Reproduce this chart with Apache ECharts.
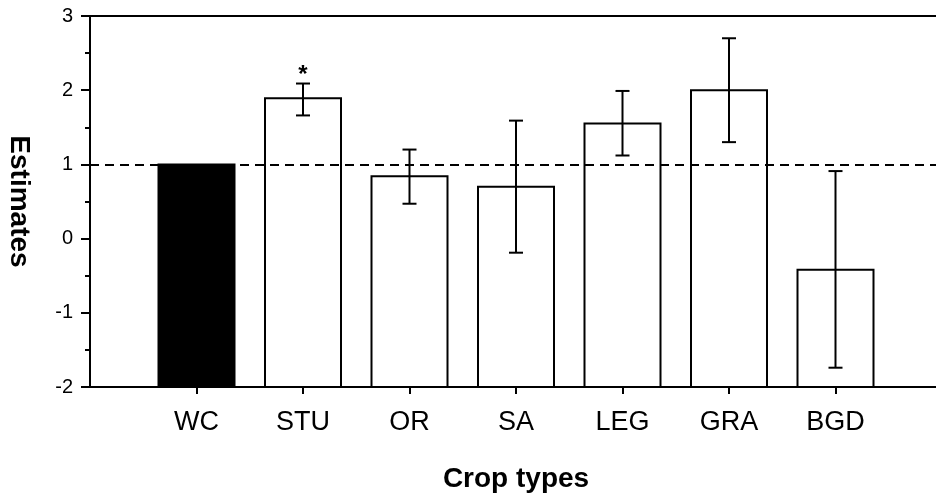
<!DOCTYPE html>
<html>
<head>
<meta charset="utf-8">
<script src="https://cdn.jsdelivr.net/npm/echarts@6/dist/echarts.min.js"></script>
<style>html,body{margin:0;padding:0;background:#fff;}#c{width:936px;height:498px;}</style>
</head>
<body>
<div id="c"></div>
<script>
const categories = ['WC', 'STU', 'OR', 'SA', 'LEG', 'GRA', 'BGD'];
const estimates = [1.0, 1.89, 0.84, 0.70, 1.55, 2.00, -0.42];
const errLow = [null, 1.66, 0.47, -0.19, 1.12, 1.30, -1.74];
const errHigh = [null, 2.09, 1.20, 1.59, 1.99, 2.70, 0.91];
const signif = ['', '*', '', '', '', '', ''];
const yTicks = [-2, -1, 0, 1, 2, 3];
const referenceLevel = 1;

const FONT = '"Liberation Sans", Arial, Helvetica, sans-serif';
const axisData = [''].concat(categories, ['']);
const barData = estimates.map((v, i) => [i + 1, v, i]);
const errData = categories.map((c, i) => [i + 1, errLow[i], errHigh[i], i]).filter(d => d[1] !== null);
const yMin = yTicks[0];

const chart = echarts.init(document.getElementById('c'), null, { renderer: 'canvas' });
chart.setOption({
  animation: false,
  backgroundColor: '#fff',
  grid: { left: 90, top: 16, bottom: 111, right: -6, outerBoundsMode: 'none', containLabel: false, show: true, borderColor: '#000', borderWidth: 2, backgroundColor: 'transparent' },
  xAxis: {
    type: 'category',
    data: axisData,
    boundaryGap: false,
    name: 'Crop types',
    nameLocation: 'middle',
    nameGap: 78,
    nameTextStyle: { fontFamily: FONT, fontSize: 28, fontWeight: 'bold', color: '#000' },
    axisLine: { onZero: false, lineStyle: { color: '#000', width: 2 } },
    axisTick: { show: true, length: 7, interval: function (i) { return i > 0 && i <= categories.length; }, lineStyle: { color: '#000', width: 2 } },
    axisLabel: { fontFamily: FONT, fontSize: 27, color: '#000', margin: 22, interval: 0 },
    splitLine: { show: false }
  },
  yAxis: {
    type: 'value',
    min: yMin,
    max: yTicks[yTicks.length - 1],
    interval: 1,
    name: 'Estimates',
    nameLocation: 'middle',
    nameGap: 57,
    nameRotate: -90,
    nameTextStyle: { fontFamily: FONT, fontSize: 28, fontWeight: 'bold', color: '#000' },
    axisLine: { show: true, lineStyle: { color: '#000', width: 2 } },
    axisTick: { show: true, length: 9, lineStyle: { color: '#000', width: 2 } },
    minorTick: { show: true, splitNumber: 2, length: 5, lineStyle: { color: '#000', width: 2 } },
    axisLabel: { fontFamily: FONT, fontSize: 20, color: '#000', margin: 17 },
    splitLine: { show: false },
    minorSplitLine: { show: false }
  },
  series: [
    {
      type: 'custom',
      data: barData,
      z: 2,
      renderItem: function (params, api) {
        const x = api.value(0);
        const p = api.coord([x, api.value(1)]);
        const b = api.coord([x, yMin]);
        const w = 76;
        const idx = api.value(2);
        return {
          type: 'rect',
          shape: { x: p[0] - w / 2, y: p[1], width: w, height: b[1] - p[1] },
          style: { fill: idx === 0 ? '#000' : '#fff', stroke: '#000', lineWidth: 2 }
        };
      }
    },
    {
      type: 'custom',
      data: errData,
      z: 5,
      renderItem: function (params, api) {
        const x = api.value(0);
        const top = api.coord([x, api.value(2)]);
        const bot = api.coord([x, api.value(1)]);
        const cap = 7;
        const st = { stroke: '#000', lineWidth: 2 };
        const children = [
          { type: 'line', shape: { x1: top[0], y1: top[1], x2: bot[0], y2: bot[1] }, style: st },
          { type: 'line', shape: { x1: top[0] - cap, y1: top[1], x2: top[0] + cap, y2: top[1] }, style: st },
          { type: 'line', shape: { x1: bot[0] - cap, y1: bot[1], x2: bot[0] + cap, y2: bot[1] }, style: st }
        ];
        const s = signif[api.value(3)];
        if (s) {
          children.push({ type: 'text', style: { text: s, x: top[0], y: top[1] - 20, align: 'center', verticalAlign: 'top', font: 'bold 24px ' + FONT, fill: '#000' } });
        }
        return { type: 'group', children: children };
      },
      markLine: {
        silent: true,
        symbol: 'none',
        label: { show: false },
        lineStyle: { color: '#000', width: 2, type: [9, 6] },
        data: [{ yAxis: referenceLevel }]
      }
    }
  ]
});
</script>
</body>
</html>
